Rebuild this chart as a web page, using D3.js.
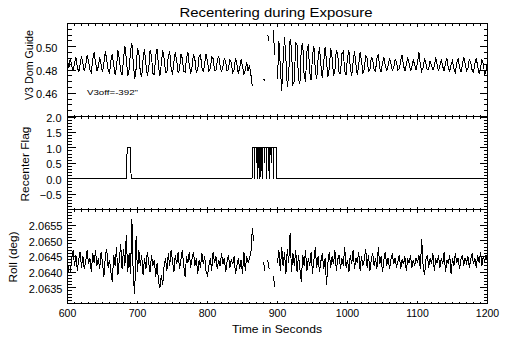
<!DOCTYPE html>
<html><head><meta charset="utf-8">
<script src="https://cdn.jsdelivr.net/npm/d3@7"></script>
<style>
body{margin:0;background:#fff}
svg{display:block}
text{font-family:"Liberation Sans",Arial,sans-serif;fill:#000}
</style>
</head><body>
<svg id="c" width="509" height="345"></svg>
<script>
// ---------------- data ----------------
const startTime = 600, sampleStep = 2;   // seconds
const guideValues = [
0.488,0.482,0.490,0.484,0.479,0.486,0.491,0.483,0.478,0.485,
0.492,0.486,0.479,0.484,0.493,0.488,0.480,0.478,0.489,0.495,
0.487,0.479,0.483,0.491,0.485,0.478,0.486,0.496,0.489,0.480,
0.477,0.488,0.494,0.484,0.476,0.482,0.497,0.490,0.479,0.476,
0.489,0.501,0.490,0.475,0.480,0.496,0.503,0.486,0.472,0.481,
0.499,0.494,0.478,0.474,0.490,0.498,0.485,0.475,0.481,0.497,
0.492,0.477,0.476,0.493,0.498,0.483,0.475,0.485,0.497,0.490,
0.478,0.478,0.492,0.496,0.482,0.476,0.487,0.495,0.488,0.478,
0.480,0.494,0.490,0.479,0.478,0.490,0.495,0.484,0.477,0.483,
0.494,0.489,0.478,0.480,0.492,0.493,0.482,0.478,0.486,0.494,
0.487,0.479,0.481,0.491,0.490,0.480,0.479,0.488,0.492,0.484,
0.478,0.483,0.490,0.487,0.479,0.481,0.489,0.486,0.478,0.480,
0.490,0.485,0.477,0.482,0.489,0.483,0.476,0.480,0.487,0.479,
0.484,0.476,0.466,null,null,null,null,null,null,null,
0.4725,0.4705,null,0.510,0.505,null,null,0.514,0.493,null,
0.472,0.505,0.483,0.462,0.488,0.508,0.490,0.465,0.475,0.507,
0.498,0.468,0.470,0.504,0.501,0.472,0.468,0.499,0.503,0.476,
0.470,0.496,0.502,0.478,0.471,0.492,0.501,0.480,0.472,0.490,
0.500,0.484,0.473,0.486,0.500,0.488,0.474,0.482,0.499,0.491,
0.475,0.479,0.497,0.494,0.477,0.477,0.494,0.496,0.479,0.476,
0.491,0.497,0.482,0.475,0.487,0.496,0.485,0.476,0.484,0.495,
0.488,0.477,0.481,0.493,0.490,0.479,0.480,0.491,0.489,0.480,
0.479,0.490,0.494,0.482,0.478,0.486,0.491,0.484,0.479,0.484,
0.490,0.486,0.480,0.482,0.489,0.487,0.480,0.481,0.488,0.493,
0.484,0.479,0.485,0.490,0.486,0.479,0.483,0.489,0.484,0.480,
0.486,0.495,0.485,0.479,0.482,0.490,0.486,0.480,0.481,0.488,
0.484,0.480,0.483,0.491,0.485,0.479,0.484,0.489,0.483,0.479,
0.486,0.490,0.482,0.479,0.485,0.488,0.481,0.478,0.486,0.490,
0.483,0.478,0.484,0.491,0.486,0.479,0.481,0.489,0.487,0.480,
0.478,0.486,0.490,0.483,0.477,0.482,0.489,0.485,0.476,0.480,
0.487];

const rollValues = [
2.06430,2.06400,2.06400,2.06445,2.06470,2.06420,2.06455,2.06405,2.06440,2.06465,
2.06415,2.06450,2.06410,2.06435,2.06470,2.06425,2.06445,2.06400,2.06460,2.06430,
2.06470,2.06420,2.06445,2.06410,2.06465,2.06430,2.06385,2.06450,2.06475,2.06415,
2.06440,2.06400,2.06370,2.06455,2.06420,2.06480,2.06390,2.06440,2.06490,2.06410,
2.06475,2.06420,2.06520,2.06400,2.06460,2.06395,2.06570,2.06380,2.06330,2.06515,
2.06400,2.06470,2.06420,2.06455,2.06390,2.06445,2.06410,2.06465,2.06430,2.06400,
2.06455,2.06420,2.06440,2.06385,2.06430,2.06370,2.06350,2.06390,2.06360,2.06420,
2.06445,2.06405,2.06460,2.06420,2.06470,2.06435,2.06400,2.06455,2.06425,2.06465,
2.06410,2.06440,2.06470,2.06420,2.06385,2.06450,2.06430,2.06465,2.06415,2.06445,
2.06465,2.06420,2.06445,2.06395,2.06440,2.06415,2.06460,2.06425,2.06450,2.06400,
2.06390,2.06420,2.06445,2.06405,2.06465,2.06430,2.06450,2.06410,2.06440,2.06420,
2.06460,2.06425,2.06445,2.06400,2.06435,2.06455,2.06415,2.06440,2.06425,2.06450,
2.06395,2.06420,2.06445,2.06410,2.06440,2.06395,2.06465,2.06405,2.06450,2.06430,
2.06445,2.06460,2.06540,2.06500,null,null,null,null,null,null,
2.06433,2.06403,null,2.06439,2.06411,null,null,2.06389,2.06353,null,
2.06430,2.06470,2.06405,2.06480,2.06420,2.06465,2.06395,2.06475,2.06430,2.06525,
2.06400,2.06460,2.06420,2.06470,2.06400,2.06455,2.06410,2.06370,2.06455,2.06420,
2.06470,2.06405,2.06445,2.06420,2.06465,2.06395,2.06440,2.06480,2.06415,2.06450,
2.06400,2.06435,2.06460,2.06410,2.06445,2.06360,2.06430,2.06465,2.06415,2.06450,
2.06425,2.06470,2.06405,2.06440,2.06455,2.06410,2.06445,2.06420,2.06480,2.06415,
2.06440,2.06400,2.06455,2.06425,2.06470,2.06410,2.06445,2.06430,2.06465,2.06405,
2.06450,2.06420,2.06440,2.06475,2.06415,2.06455,2.06405,2.06440,2.06460,2.06420,
2.06445,2.06410,2.06480,2.06425,2.06450,2.06400,2.06440,2.06465,2.06420,2.06445,
2.06410,2.06440,2.06460,2.06425,2.06445,2.06415,2.06435,2.06455,2.06410,2.06440,
2.06425,2.06450,2.06405,2.06440,2.06430,2.06455,2.06415,2.06440,2.06420,2.06445,
2.06430,2.06455,2.06410,2.06505,2.06420,2.06390,2.06440,2.06455,2.06415,2.06445,
2.06425,2.06460,2.06405,2.06440,2.06430,2.06455,2.06415,2.06445,2.06425,2.06465,
2.06400,2.06440,2.06425,2.06455,2.06395,2.06445,2.06420,2.06460,2.06430,2.06445,
2.06410,2.06440,2.06455,2.06420,2.06445,2.06430,2.06450,2.06415,2.06440,2.06460,
2.06425,2.06445,2.06415,2.06455,2.06430,2.06465,2.06420,2.06450,2.06435,2.06455,
2.06430];

const flagTimes = [600,684,684.4,685.4,690.4,690.8,863.6,864,866.5,867,867.5,869.5,870,870.5,871.5,872,
  872.5,874.5,875,875.5,877.5,878,878.5,881,881.5,882,884,884.5,885,887.5,888,888.5,890.5,891,891.5,
  894,894.5,895,898.5,899,1200];
const flagValues = [0,0,0.5,1,1,0,0,1,1,0,1,1,0.5,1,1,0,
  1,1,0,1,1,0,1,1,0.5,1,1,0,1,1,0,1,1,0.5,1,
  1,0,1,1,0,0];

const timeTicks = [600,700,800,900,1000,1100,1200];
const guideTicks = [0.46,0.48,0.50];
const flagTicks = [-0.5,0.0,0.5,1.0,1.5,2.0];
const rollTicks = [2.0635,2.0640,2.0645,2.0650,2.0655];

const titleText = "Recentering during Exposure";
const xTitle = "Time in Seconds";
const offsetNote = "V3off=-392\"";

// ---------------- layout ----------------
const svg = d3.select("#c");
const L = 67.5, R = 487.5;
const x = d3.scaleLinear().domain([600, 1200]).range([L, R]);
const timeMinor = d3.range(600, 1201, 10);

const panels = [
  {top:23.5, bottom:116.5, domain:[0.44,0.52], ticks:guideTicks, minor:d3.range(0.44,0.5201,0.005),
   fmt:d3.format(".2f"), pad:10, title:"V3 Dom Guide", tx:33, ty:65, tlen:70},
  {top:116.5, bottom:209.5, domain:[-1.0,2.02], ticks:flagTicks, minor:d3.range(-1.0,2.0201,0.1),
   fmt:d3.format(".1f"), pad:6, title:"Recenter Flag", tx:29, ty:164, tlen:75},
  {top:209.5, bottom:303.5, domain:[2.0630,2.0660], ticks:rollTicks, minor:d3.range(2.0630,2.06601,0.0001),
   fmt:d3.format(".4f"), pad:5, title:"Roll (deg)", tx:17, ty:257, tlen:51}
];
panels.forEach(p => { p.y = d3.scaleLinear().domain(p.domain).range([p.bottom, p.top]); });

function styleAxis(g, fs){
  g.select(".domain").remove();
  g.selectAll("line").attr("stroke","#000").attr("shape-rendering","crispEdges");
  g.selectAll("text").attr("font-family","'Liberation Sans',Arial,sans-serif").attr("font-size",fs || 10).attr("fill","#000");
}

panels.forEach((p, i) => {
  // y axes
  svg.append("g").attr("transform",`translate(${L},0)`)
    .call(d3.axisLeft(p.y).tickValues(p.minor).tickSize(-4).tickFormat("").offset(0)).call(styleAxis);
  svg.append("g").attr("transform",`translate(${L},0)`)
    .call(d3.axisLeft(p.y).tickValues(p.ticks).tickSize(-8).tickPadding(p.pad).tickFormat(p.fmt).offset(0))
    .call(styleAxis, 11).selectAll("text").attr("dy","0.45em");
  svg.append("g").attr("transform",`translate(${R},0)`)
    .call(d3.axisRight(p.y).tickValues(p.minor).tickSize(-4).tickFormat("").offset(0)).call(styleAxis);
  svg.append("g").attr("transform",`translate(${R},0)`)
    .call(d3.axisRight(p.y).tickValues(p.ticks).tickSize(-8).tickFormat("").offset(0)).call(styleAxis);
  // x axes top/bottom
  svg.append("g").attr("transform",`translate(0,${p.top})`)
    .call(d3.axisTop(x).tickValues(timeMinor).tickSize(-2).tickFormat("").offset(0)).call(styleAxis);
  svg.append("g").attr("transform",`translate(0,${p.top})`)
    .call(d3.axisTop(x).tickValues(timeTicks).tickSize(-3).tickFormat("").offset(0)).call(styleAxis);
  svg.append("g").attr("transform",`translate(0,${p.bottom})`)
    .call(d3.axisBottom(x).tickValues(timeMinor).tickSize(-2).tickFormat("").offset(0)).call(styleAxis);
  svg.append("g").attr("transform",`translate(0,${p.bottom})`)
    .call(d3.axisBottom(x).tickValues(timeTicks).tickSize(-3).tickPadding(6)
      .tickFormat(i === 2 ? d3.format("d") : "").offset(0)).call(styleAxis, 10.5);
  // frame
  svg.append("rect").attr("x",L).attr("y",p.top).attr("width",R-L).attr("height",p.bottom-p.top)
    .attr("fill","none").attr("stroke","#000").attr("shape-rendering","crispEdges");
  // y title
  svg.append("text").attr("transform",`translate(${p.tx},${p.ty}) rotate(-90)`)
    .attr("text-anchor","middle").attr("font-size",11)
    .attr("textLength",p.tlen).attr("lengthAdjust","spacingAndGlyphs").text(p.title);
});

// data lines
const sampleTimes = guideValues.map((_, i) => startTime + i * sampleStep);
function drawSeries(times, vals, p){
  const pts = times.map((t, i) => ({t, v: vals[i]}));
  const line = d3.line().defined(d => d.v !== null).x(d => x(d.t)).y(d => p.y(d.v));
  svg.append("path").datum(pts).attr("d", line).attr("fill","none")
    .attr("stroke","#000").attr("stroke-width",1).attr("shape-rendering","crispEdges");
}
drawSeries(sampleTimes, guideValues, panels[0]);
drawSeries(flagTimes, flagValues, panels[1]);
drawSeries(sampleTimes, rollValues, panels[2]);

// texts
svg.append("text").attr("x",276).attr("y",17).attr("text-anchor","middle").attr("font-size",12)
  .attr("textLength",193).attr("lengthAdjust","spacingAndGlyphs").text(titleText);
svg.append("text").attr("x",277).attr("y",333).attr("text-anchor","middle").attr("font-size",11)
  .attr("textLength",90).attr("lengthAdjust","spacingAndGlyphs").text(xTitle);
svg.append("text").attr("x",87).attr("y",95).attr("font-size",8)
  .attr("textLength",51).attr("lengthAdjust","spacingAndGlyphs").text(offsetNote);
</script>
</body></html>
